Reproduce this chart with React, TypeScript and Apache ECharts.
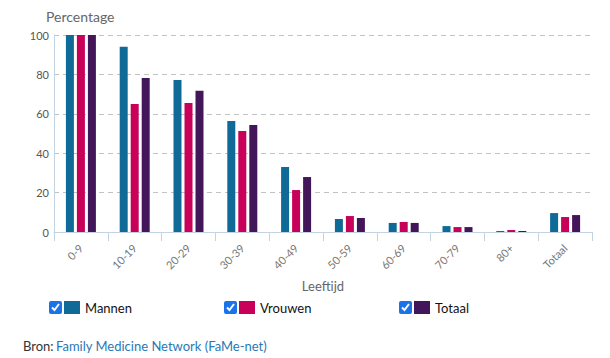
import React, { useEffect, useRef } from "react";
import * as echarts from "echarts";

const categories = ["0-9", "10-19", "20-29", "30-39", "40-49", "50-59", "60-69", "70-79", "80+", "Totaal"];
const seriesNames = ["Mannen", "Vrouwen", "Totaal"];
const mannen = [100, 94, 77.2, 56.3, 33, 6.6, 4.6, 3.0, 0.5, 9.6];
const vrouwen = [100, 65, 65.5, 51.3, 21.3, 8.1, 5.1, 2.5, 1.0, 7.6];
const totaal = [100, 78.2, 71.7, 54.3, 27.9, 7.1, 4.6, 2.5, 0.5, 8.6];
const colors = ["#0f6a98", "#c8005a", "#43165a"];
const yTicks = [0, 20, 40, 60, 80, 100];

const FONT = "Lato, 'Noto Sans', sans-serif";

export default function App() {
  const ref = useRef<HTMLDivElement>(null);
  useEffect(() => {
    if (!ref.current) return;
    const chart = echarts.init(ref.current, null, { renderer: "svg" });
    const values = [mannen, vrouwen, totaal];
    const legendGraphics: any[] = [];
    seriesNames.forEach((name, i) => {
      const x0 = 49 + i * 175;
      legendGraphics.push(
        { type: "rect", shape: { x: x0, y: 301, width: 13, height: 13, r: 2 }, style: { fill: "#1a73e8" } },
        { type: "polyline", shape: { points: [[x0 + 3, 307.5], [x0 + 5.5, 310], [x0 + 10, 304]] }, style: { stroke: "#fff", lineWidth: 2, fill: "none" } },
        { type: "rect", shape: { x: x0 + 15, y: 301, width: 16, height: 13 }, style: { fill: colors[i] } },
        { type: "text", x: x0 + 36, y: 308, style: { text: name, fill: "#111", font: `13px ${FONT}`, verticalAlign: "middle" } }
      );
    });
    chart.setOption({
      animation: false,
      textStyle: { fontFamily: FONT },
      grid: { left: 54, right: 18, top: 35, bottom: 126, containLabel: false },
      xAxis: {
        type: "category",
        data: categories,
        name: "Leeftijd",
        nameLocation: "middle",
        nameGap: 47,
        nameTextStyle: { color: "#666", fontSize: 13, fontFamily: FONT },
        axisLine: { lineStyle: { color: "#c4d3e2", width: 1 } },
        axisTick: { show: true, length: 9, lineStyle: { color: "#c4d3e2" } },
        axisLabel: { rotate: 45, color: "#777", fontSize: 11, margin: 14, fontFamily: FONT },
      },
      yAxis: {
        type: "value",
        min: 0,
        max: 100,
        interval: 20,
        name: "Percentage",
        nameLocation: "end",
        nameGap: 12,
        nameTextStyle: { color: "#666", fontSize: 14, fontFamily: FONT, align: "left", padding: [0, 0, 0, -8] },
        axisLine: { show: true, lineStyle: { color: "#c4d3e2" } },
        axisTick: { show: false },
        axisLabel: {
          color: "#555",
          fontSize: 11,
          margin: 5,
          fontFamily: FONT,
          formatter: (v: number) => (yTicks.includes(v) ? String(v) : ""),
        },
        splitLine: { lineStyle: { color: "#c2c2c2", type: [5, 4] } },
      },
      series: seriesNames.map((name, i) => ({
        name,
        type: "bar",
        data: values[i],
        barWidth: 8,
        barGap: "37.5%",
        itemStyle: { color: colors[i] },
      })),
      graphic: [
        ...legendGraphics,
        {
          type: "text",
          x: 23,
          y: 346,
          style: {
            text: "Bron: ",
            fill: "#333",
            font: `13px ${FONT}`,
            verticalAlign: "middle",
          },
        },
        {
          type: "text",
          x: 56,
          y: 346,
          style: {
            text: "Family Medicine Network (FaMe-net)",
            fill: "#2a78b5",
            font: `13px ${FONT}`,
            verticalAlign: "middle",
          },
        },
      ],
    });
    return () => chart.dispose();
  }, []);
  return <div ref={ref} style={{ position: "absolute", left: 0, top: 0, width: 610, height: 358 }} />;
}
